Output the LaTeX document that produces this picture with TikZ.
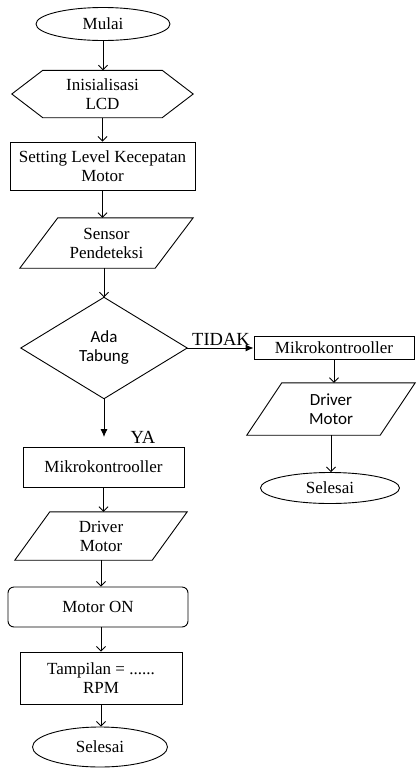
\documentclass[tikz,border=0pt]{standalone}
\usepackage{fontspec}
\setmainfont{Liberation Serif}
\newfontfamily\sansf{Carlito}
\usetikzlibrary{shapes.geometric,arrows.meta}
\newcommand\hexashape[2]{\draw[base] ([xshift=#2]#1.north west) -- ([xshift=-#2]#1.north east) -- (#1.east) -- ([xshift=-#2]#1.south east) -- ([xshift=#2]#1.south west) -- (#1.west) -- cycle;}
\newcommand\parashape[2]{\draw[base] ([xshift=#2]#1.north west) -- (#1.north east) -- ([xshift=-#2]#1.south east) -- (#1.south west) -- cycle;}
\newcommand\diamshape[1]{\draw[base] (#1.north) -- (#1.east) -- (#1.south) -- (#1.west) -- cycle;}
\begin{document}
\begin{tikzpicture}[x=1pt,y=-1pt,
  every node/.style={font=\fontsize{17}{19}\selectfont, align=center, inner sep=0pt},
  base/.style={line width=0.9pt, line join=miter},
  term/.style={base, draw, ellipse},
  proc/.style={base, draw, rectangle},
  ghost/.style={rectangle},
  sanstext/.style={font=\sansf\fontsize{17}{19}\selectfont},
  lbl/.style={font=\fontsize{18.5}{20}\selectfont},
  flow/.style={base, -{Straight Barb[length=4.5pt,width=9pt]}},
  flowfill/.style={base, -{Latex[length=8pt,width=7pt]}}
]
\useasboundingbox (0,0) rectangle (416,769);

% main column
\node[term, minimum width=134, minimum height=33] (mulai) at (103,24) {Mulai};
\node[ghost, minimum width=181, minimum height=47] (init) at (102.5,94) {Inisialisasi\\LCD};
\hexashape{init}{31}
\node[proc, minimum width=185, minimum height=48] (setting) at (102.5,166) {Setting Level Kecepatan\\Motor};
\node[ghost, minimum width=173, minimum height=50] (sensor) at (106.5,243) {Sensor\\Pendeteksi};
\parashape{sensor}{38}
\node[ghost, sanstext, minimum width=166, minimum height=101] (dia) at (104,348) {Ada\\Tabung};
\diamshape{dia}
\coordinate (yaend) at (104,437);
\node[proc, minimum width=161, minimum height=40] (mikroL) at (103.5,467) {Mikrokontrooller};
\node[ghost, minimum width=172, minimum height=48] (driverL) at (101,536) {Driver\\Motor};
\parashape{driverL}{35}
\node[proc, rounded corners=6pt, minimum width=180, minimum height=40] (motoron) at (98,607) {Motor ON};
\node[proc, minimum width=162, minimum height=52] (tamp) at (101,678) {Tampilan = ......\\RPM};
\node[term, minimum width=135, minimum height=40] (selL) at (100,747) {Selesai};

% right column
\node[proc, minimum width=160, minimum height=23] (mikroR) at (334,348) {Mikrokontrooller};
\node[ghost, sanstext, minimum width=168, minimum height=52] (driverR) at (331,409) {Driver\\Motor};
\parashape{driverR}{35}
\node[term, minimum width=139, minimum height=31] (selR) at (330,488) {Selesai};

% labels
\node[lbl] (tidak) at (221,339) {TIDAK};
\node[lbl] (ya) at (143,437) {YA};

% connectors
\draw[flow] (mulai.south) -- (mulai.south |- init.north);
\draw[flow] (init.south) -- (init.south |- setting.north);
\draw[flow] (setting.south) -- (setting.south |- sensor.north);
\draw[flow] (dia.north |- sensor.south) -- (dia.north);
\draw[flowfill] (dia.east) -- (dia.east -| mikroR.west);
\draw[flowfill] (dia.south) -- (yaend);
\draw[flow] (mikroL.south) -- (mikroL.south |- driverL.north);
\draw[flow] (driverL.south) -- (driverL.south |- motoron.north);
\draw[flow] (tamp.north |- motoron.south) -- (tamp.north);
\draw[flow] (tamp.south) -- (tamp.south |- selL.north);
\draw[flow] (mikroR.south) -- (mikroR.south |- driverR.north);
\draw[flow] (driverR.south) -- (driverR.south |- selR.north);
\end{tikzpicture}
\end{document}
